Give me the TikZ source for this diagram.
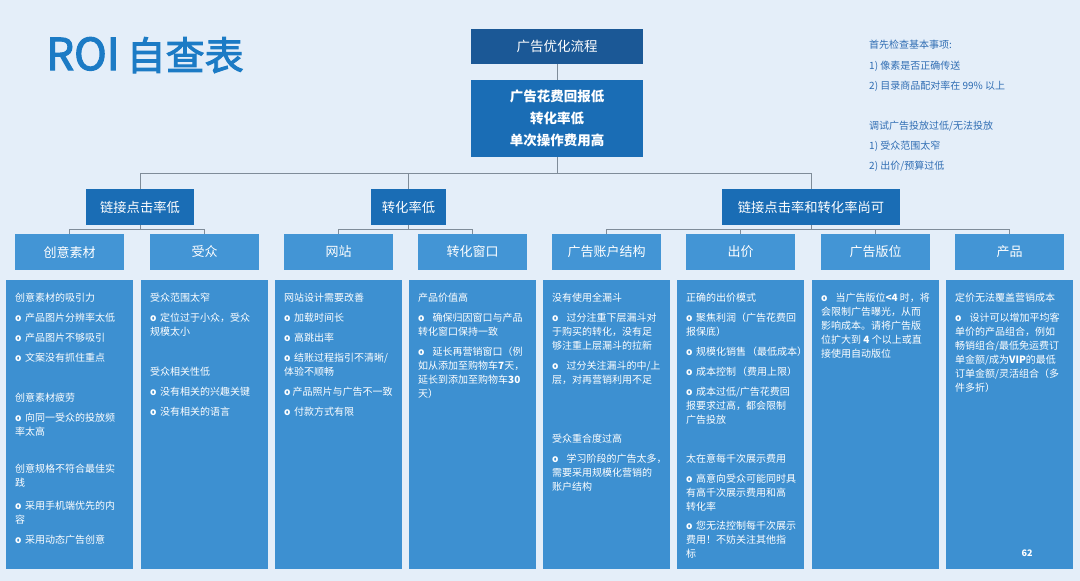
\documentclass[tikz,border=0pt]{standalone}
\usepackage{fontspec}
\setmainfont{Noto Sans CJK SC}
\newfontfamily\titlefont[FakeBold=2.5]{Noto Sans CJK SC}
\definecolor{bgc}{HTML}{E4EEF9}
\definecolor{topc}{HTML}{1B5896}
\definecolor{midc}{HTML}{1A6DB5}
\definecolor{lvc}{HTML}{4395D5}
\definecolor{panc}{HTML}{3D90D1}
\definecolor{titc}{HTML}{1C7BC5}
\definecolor{notec}{HTML}{2F6DB3}
\definecolor{linec}{HTML}{7F8C99}
\newcommand\obul{{\bfseries o}\hspace{3.5pt}}
\newcommand\obulw{{\bfseries o}\hspace{8pt}}
\newcommand\ptxt[4]{\node[ptext] (#1) at (#2,#3-6) {\strut #4};}
\newcommand\ntxt[3]{\node[ntext] (#1) at (869,#2+3.6) {#3};}
\begin{document}
\begin{tikzpicture}[x=1pt,y=-1pt,
  conn/.style={draw=linec, line width=0.8pt},
  topbox/.style={fill=topc, text=white, inner sep=0pt, minimum width=172pt, minimum height=35pt, font=\fontsize{13.5}{16}\selectfont},
  midbox/.style={fill=midc, text=white, inner sep=0pt, minimum width=172pt, minimum height=77pt, align=center, font=\fontsize{13.5}{22}\selectfont\bfseries},
  lvtwo/.style={fill=midc, text=white, inner sep=0pt, minimum height=36pt, font=\fontsize{13.3}{16}\selectfont},
  lvthree/.style={fill=lvc, text=white, inner sep=0pt, minimum width=109pt, minimum height=36pt, font=\fontsize{13}{16}\selectfont},
  panel/.style={fill=panc, inner sep=0pt, minimum width=127pt, minimum height=289pt},
  ptext/.style={anchor=north west, inner sep=0pt, align=left, text=white, font=\fontsize{10}{14}\selectfont},
  ntext/.style={anchor=base west, inner sep=0pt, text=notec, font=\fontsize{10}{12}\selectfont}
]
\fill[bgc] (0,0) rectangle (1080,581);
\useasboundingbox (0,0) rectangle (1080,581);

% title
\node[anchor=base west, inner sep=0pt, text=titc, font=\titlefont] (title) at (46,70)
  {{\fontsize{44}{44}\selectfont ROI}\hspace{7pt}{\fontsize{39}{39}\selectfont 自查表}};

% top boxes
\node[topbox] (flow) at (557,46.5) {广告优化流程};
\node[midbox] (problem) at (557,118.5) {广告花费回报低\\转化率低\\单次操作费用高};

% level 2
\node[lvtwo, minimum width=108pt] (ctr) at (140,207) {链接点击率低};
\node[lvtwo, minimum width=75pt] (cvr) at (408.5,207) {转化率低};
\node[lvtwo, minimum width=178pt] (ok) at (811,207) {链接点击率和转化率尚可};

% level 3
\node[lvthree] (crea) at (69.5,252) {创意素材};
\node[lvthree] (aud) at (204.5,252) {受众};
\node[lvthree] (site) at (338.5,252) {网站};
\node[lvthree] (win) at (472.5,252) {转化窗口};
\node[lvthree] (acct) at (606.5,252) {广告账户结构};
\node[lvthree] (bid) at (740.5,252) {出价};
\node[lvthree] (place) at (875.5,252) {广告版位};
\node[lvthree] (prod) at (1009.5,252) {产品};

% panels
\node[panel] (pan1) at (69.5,424.5) {};
\node[panel] (pan2) at (204.5,424.5) {};
\node[panel] (pan3) at (338.5,424.5) {};
\node[panel] (pan4) at (472.5,424.5) {};
\node[panel] (pan5) at (606.5,424.5) {};
\node[panel] (pan6) at (740.5,424.5) {};
\node[panel] (pan7) at (875.5,424.5) {};
\node[panel] (pan8) at (1009.5,424.5) {};

% connectors
\draw[conn] (flow) -- (problem);
\draw[conn] (problem.south) -- ++(0,16) -| (ctr.north);
\draw[conn] (problem.south) -- ++(0,16) -| (cvr.north);
\draw[conn] (problem.south) -- ++(0,16) -| (ok.north);
\draw[conn] (ctr.south) -- ++(0,4) -| (crea.north);
\draw[conn] (ctr.south) -- ++(0,4) -| (aud.north);
\draw[conn] (cvr.south) -- ++(0,4) -| (site.north);
\draw[conn] (cvr.south) -- ++(0,4) -| (win.north);
\draw[conn] (ok.south) -- ++(0,4) -| (acct.north);
\draw[conn] (ok.south) -- ++(0,4) -| (bid.north);
\draw[conn] (ok.south) -- ++(0,4) -| (place.north);
\draw[conn] (ok.south) -- ++(0,4) -| (prod.north);

% notes
\ntxt{n1}{45}{首先检查基本事项:}
\ntxt{n2}{66}{1) 像素是否正确传送}
\ntxt{n3}{86}{2) 目录商品配对率在 99\% 以上}
\ntxt{n4}{126}{调试广告投放过低/无法投放}
\ntxt{n5}{146}{1) 受众范围太窄}
\ntxt{n6}{166}{2) 出价/预算过低}

% panel 1
\ptxt{p1a}{15}{297}{创意素材的吸引力}
\ptxt{p1b}{15}{317}{\obul 产品图片分辨率太低}
\ptxt{p1c}{15}{337}{\obul 产品图片不够吸引}
\ptxt{p1d}{15}{357}{\obul 文案没有抓住重点}
\ptxt{p1e}{15}{397}{创意素材疲劳}
\ptxt{p1f}{15}{417}{\obul 向同一受众的投放频\\率太高}
\ptxt{p1g}{15}{468}{创意规格不符合最佳实\\践}
\ptxt{p1h}{15}{505}{\obul 采用手机端优先的内\\容}
\ptxt{p1i}{15}{539}{\obul 采用动态广告创意}

% panel 2
\ptxt{p2a}{150}{297}{受众范围太窄}
\ptxt{p2b}{150}{317}{\obul 定位过于小众，受众\\规模太小}
\ptxt{p2c}{150}{371}{受众相关性低}
\ptxt{p2d}{150}{391}{\obul 没有相关的兴趣关键}
\ptxt{p2e}{150}{411}{\obul 没有相关的语言}

% panel 3
\ptxt{p3a}{284}{297}{网站设计需要改善}
\ptxt{p3b}{284}{317}{\obul 加载时间长}
\ptxt{p3c}{284}{337}{\obul 高跳出率}
\ptxt{p3d}{284}{357}{\obul 结账过程指引不清晰/\\体验不顺畅}
\ptxt{p3e}{284}{391}{{\bfseries o}\hspace{2pt}产品照片与广告不一致}
\ptxt{p3f}{284}{411}{\obul 付款方式有限}

% panel 4
\ptxt{p4a}{418}{297}{产品价值高}
\ptxt{p4b}{418}{317}{\obulw 确保归因窗口与产品\\转化窗口保持一致}
\ptxt{p4c}{418}{351}{\obulw 延长再营销窗口（例\\如从添加至购物车{\bfseries 7}天，\\延长到添加至购物车{\bfseries 30}\\天）}

% panel 5
\ptxt{p5a}{552}{297}{没有使用全漏斗}
\ptxt{p5b}{552}{317}{\obulw 过分注重下层漏斗对\\于购买的转化，没有足\\够注重上层漏斗的拉新}
\ptxt{p5c}{552}{365}{\obulw 过分关注漏斗的中/上\\层，对再营销利用不足}
\ptxt{p5d}{552}{438}{受众重合度过高}
\ptxt{p5e}{552}{458}{\obulw 学习阶段的广告太多，\\需要采用规模化营销的\\账户结构}

% panel 6
\ptxt{p6a}{686}{297}{正确的出价模式}
\ptxt{p6b}{686}{317}{\obul 聚焦利润（广告花费回\\报保底）}
\ptxt{p6c}{686}{351}{\obul 规模化销售\hspace{1pt}（最低成本）}
\ptxt{p6d}{686}{371}{\obul 成本控制\hspace{1pt}（费用上限）}
\ptxt{p6e}{686}{391}{\obul 成本过低/广告花费回\\报要求过高，都会限制\\广告投放}
\ptxt{p6f}{686}{458}{太在意每千次展示费用}
\ptxt{p6g}{686}{478}{\obul 高意向受众可能同时具\\有高千次展示费用和高\\转化率}
\ptxt{p6h}{686}{525}{\obul 您无法控制每千次展示\\费用！不妨关注其他指\\标}

% panel 7
\ptxt{p7a}{821}{297}{\obulw 当广告版位{\bfseries <4} 时，将\\会限制广告曝光，从而\\影响成本。请将广告版\\位扩大到 {\bfseries 4} 个以上或直\\接使用自动版位}

% panel 8
\ptxt{p8a}{955}{297}{定价无法覆盖营销成本}
\ptxt{p8b}{955}{317}{\obulw 设计可以增加平均客\\单价的产品组合，例如\\畅销组合/最低免运费订\\单金额/成为{\bfseries VIP}的最低\\订单金额/灵活组合（多\\件多折）}

% page number
\node[inner sep=0pt, text=white, font=\fontsize{9}{10}\selectfont\bfseries] (pageno) at (1027,553) {62};
\end{tikzpicture}
\end{document}
